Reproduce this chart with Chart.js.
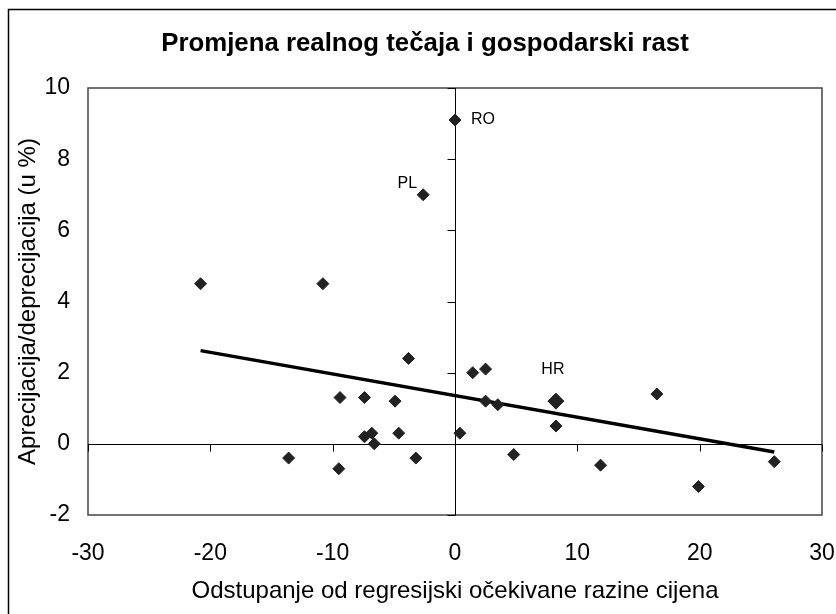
<!DOCTYPE html>
<html>
<head>
<meta charset="utf-8">
<script src="https://cdn.jsdelivr.net/npm/chart.js@4.4.0/dist/chart.umd.min.js"></script>
<style>
  html, body { margin: 0; padding: 0; background: #fff; }
</style>
</head>
<body>
<canvas id="chart" width="836" height="614"></canvas>
<script>
// chart texts
const chartTitle = 'Promjena realnog tečaja i gospodarski rast';
const xTitle = 'Odstupanje od regresijski očekivane razine cijena';
const yTitle = 'Aprecijacija/deprecijacija (u %)';

// axis ticks
const xTicks = [-30, -20, -10, 0, 10, 20, 30];
const yTicks = [-2, 0, 2, 4, 6, 8, 10];

// countries
const pointX = [-20.8, -10.8, -2.6, 0.0, -3.8, -9.4, -7.4, -4.9, -7.4, -6.8, -6.6, -4.6, 0.4, -13.6, -9.5, -3.2, 1.45, 2.5, 2.5, 3.5, 8.25, 8.25, 16.5, 4.8, 11.9, 19.9, 26.1];
const pointY = [4.5, 4.5, 7.0, 9.1, 2.4, 1.3, 1.3, 1.2, 0.2, 0.3, 0.0, 0.3, 0.3, -0.4, -0.7, -0.4, 2.0, 2.1, 1.2, 1.1, 1.2, 0.5, 1.4, -0.3, -0.6, -1.2, -0.5];
const pointLabels = ['', '', 'PL', 'RO', '', '', '', '', '', '', '', '', '', '', '', '', '', '', '', '', 'HR', '', '', '', '', '', ''];

// linear trend, end points
const trendX = [-20.8, 26.1];
const trendY = [2.62, -0.23];

const FONT = "'Liberation Sans', Arial, sans-serif";

// where the country names sit relative to their marker
const labelPlace = {
    RO: { dx: 16, dy: 0, align: 'left' },
    PL: { dx: -6, dy: -11, align: 'right' },
    HR: { dx: -3, dy: -32, align: 'center' }
};

const framePlugin = {
    id: 'frame',
    beforeDraw(chart) {
        const ctx = chart.ctx;
        ctx.save();
        ctx.fillStyle = '#fff';
        ctx.fillRect(0, 0, chart.width, chart.height);
        ctx.strokeStyle = '#000';
        ctx.lineWidth = 1.5;
        ctx.strokeRect(8.5, 9.5, chart.width + 20, chart.height + 20);
        ctx.restore();
    },
    beforeDatasetsDraw(chart) {
        const { ctx, chartArea: a, scales: { x, y } } = chart;
        const x0 = Math.round(x.getPixelForValue(0)) + 0.5;
        const y0 = Math.round(y.getPixelForValue(0)) + 0.5;
        ctx.save();
        // plot box
        ctx.strokeStyle = '#444';
        ctx.lineWidth = 1.5;
        ctx.strokeRect(a.left, a.top, a.right - a.left, a.bottom - a.top);
        // axes crossing at zero
        ctx.strokeStyle = '#000';
        ctx.lineWidth = 1;
        ctx.beginPath();
        ctx.moveTo(x0, a.top);
        ctx.lineTo(x0, a.bottom);
        yTicks.forEach(v => {
            const py = Math.round(y.getPixelForValue(v)) + 0.5;
            ctx.moveTo(x0 - 8, py);
            ctx.lineTo(x0, py);
        });
        ctx.moveTo(a.left, y0);
        ctx.lineTo(a.right, y0);
        xTicks.forEach(v => {
            const px = Math.round(x.getPixelForValue(v)) + 0.5;
            ctx.moveTo(px, y0);
            ctx.lineTo(px, y0 + 7);
        });
        ctx.stroke();
        ctx.restore();
    },
    afterDraw(chart) {
        const { ctx, scales: { x, y } } = chart;
        ctx.save();
        ctx.fillStyle = '#000';
        ctx.textBaseline = 'middle';
        ctx.textAlign = 'center';
        ctx.font = 'bold 25.8px ' + FONT;
        ctx.fillText(chartTitle, 425, 44);

        ctx.font = '16px ' + FONT;
        pointLabels.forEach((lab, i) => {
            if (!lab) return;
            const p = labelPlace[lab];
            ctx.textAlign = p.align;
            ctx.fillText(lab, x.getPixelForValue(pointX[i]) + p.dx, y.getPixelForValue(pointY[i]) + p.dy);
        });
        ctx.restore();
    }
};

new Chart(document.getElementById('chart'), {
    type: 'scatter',
    data: {
        datasets: [
            {
                label: 'Zemlje',
                data: pointX.map((v, i) => ({ x: v, y: pointY[i] })),
                pointStyle: 'rectRot',
                pointRadius: c => pointLabels[c.dataIndex] === 'HR' ? 8 : 6,
                pointBackgroundColor: '#222',
                pointBorderColor: '#222',
                pointBorderWidth: 1,
                showLine: false
            },
            {
                label: 'Trend',
                data: trendX.map((v, i) => ({ x: v, y: trendY[i] })),
                showLine: true,
                borderColor: '#000',
                borderWidth: 3.5,
                pointRadius: 0
            }
        ]
    },
    options: {
        responsive: false,
        animation: false,
        layout: {
            padding: { left: 8, top: 88, right: 14, bottom: 0 }
        },
        plugins: {
            legend: { display: false },
            tooltip: { enabled: false }
        },
        scales: {
            x: {
                type: 'linear',
                min: -30,
                max: 30,
                afterBuildTicks: s => { s.ticks = xTicks.map(v => ({ value: v })); },
                afterFit: s => { s.height = 99; s.paddingLeft = 0; s.paddingRight = 0; },
                grid: { display: false, drawTicks: false },
                border: { display: false },
                ticks: {
                    color: '#000',
                    padding: 25,
                    maxRotation: 0,
                    font: { family: FONT, size: 23 }
                },
                title: {
                    display: true,
                    text: xTitle,
                    color: '#000',
                    padding: 8,
                    font: { family: FONT, size: 24 }
                }
            },
            y: {
                min: -2,
                max: 10,
                afterBuildTicks: s => { s.ticks = yTicks.map(v => ({ value: v })); },
                afterFit: s => { s.width = 80; s.paddingTop = 0; s.paddingBottom = 0; },
                grid: { display: false, drawTicks: false },
                border: { display: false },
                ticks: {
                    color: '#000',
                    padding: 18,
                    font: { family: FONT, size: 23 }
                },
                title: {
                    display: true,
                    text: yTitle,
                    color: '#000',
                    padding: 6,
                    font: { family: FONT, size: 24 }
                }
            }
        }
    },
    plugins: [framePlugin]
});
</script>
</body>
</html>
